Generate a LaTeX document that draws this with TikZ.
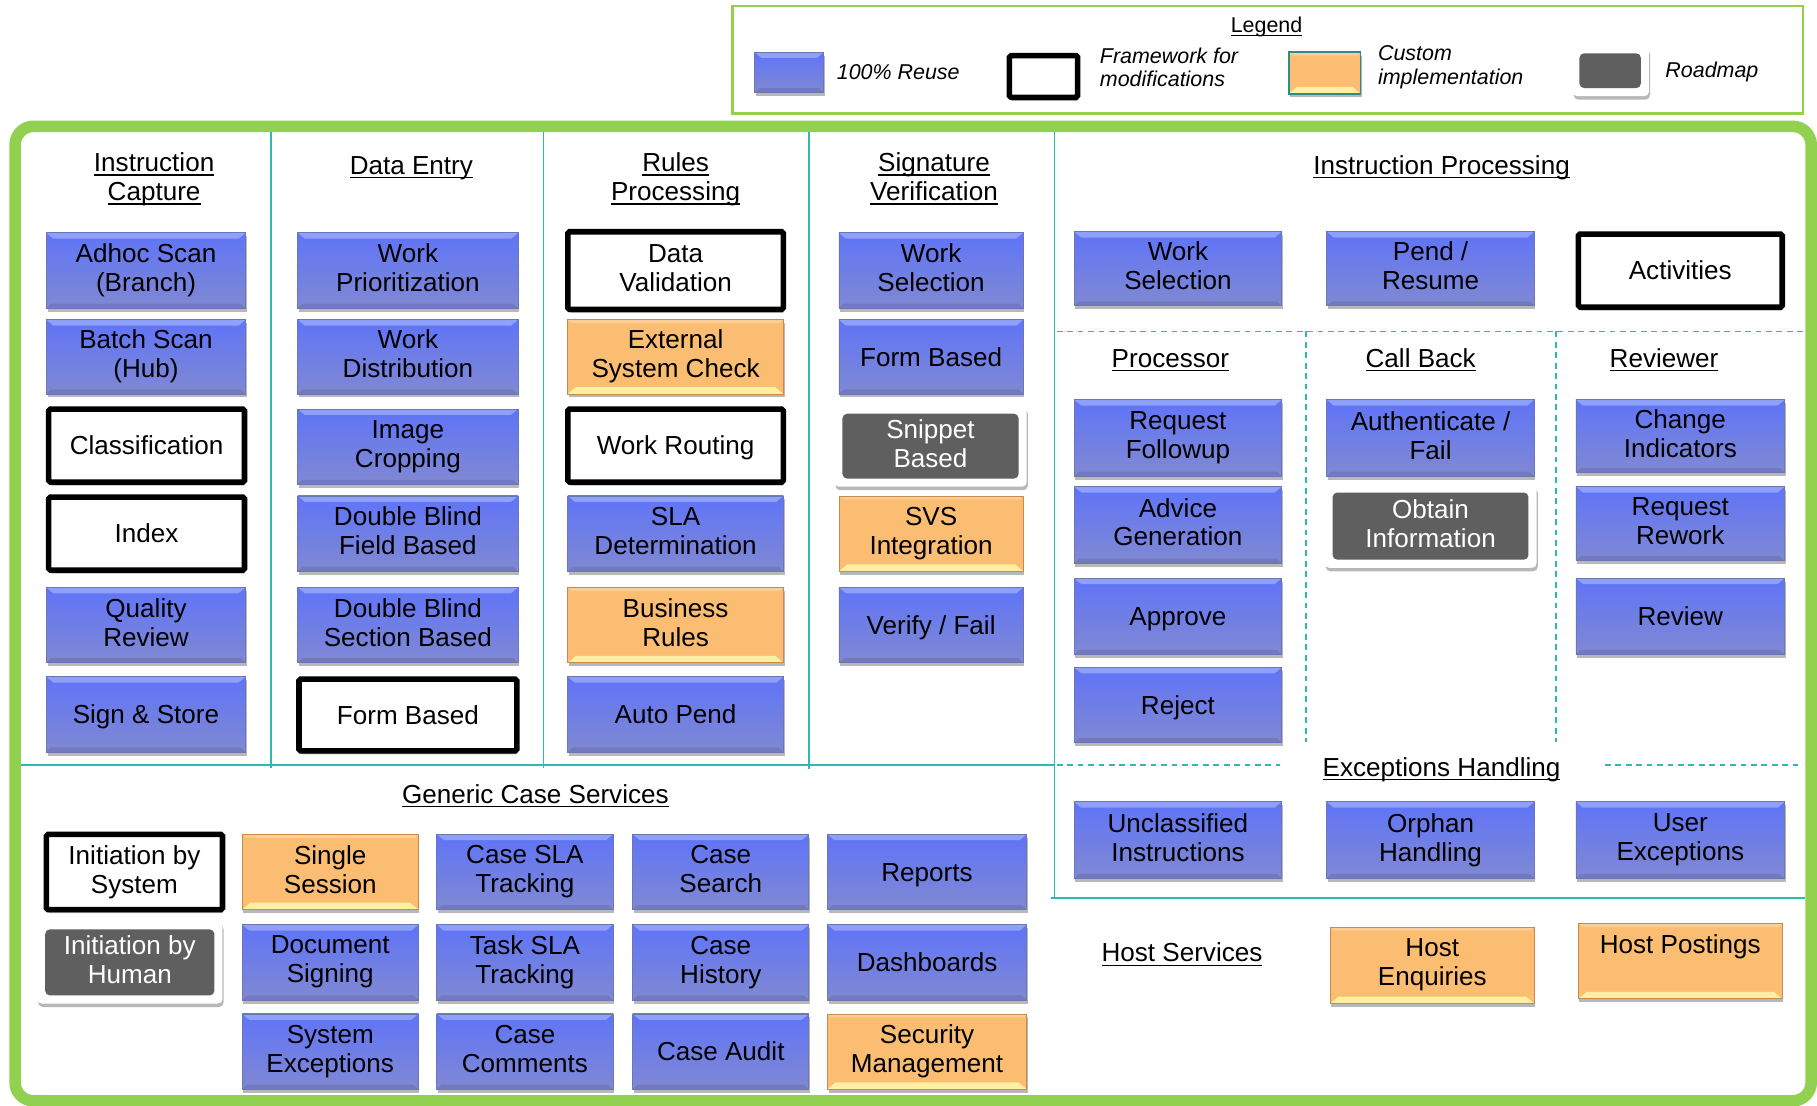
\documentclass[tikz,border=0pt]{standalone}
\usepackage{fontspec}
\setmainfont{Liberation Sans}
\usetikzlibrary{shadows}

\definecolor{framegreen}{HTML}{92D050}
\definecolor{divteal}{HTML}{2BBBB3}
\definecolor{reusetop}{HTML}{5F74F8}
\definecolor{reusebot}{HTML}{8089D2}
\definecolor{reuseedge}{HTML}{6C76B6}
\definecolor{reusebevel}{HTML}{8FA0FA}
\definecolor{customfill}{HTML}{FBBD72}
\definecolor{customedge}{HTML}{C98A4E}
\definecolor{custombevel}{HTML}{FFEFA2}
\definecolor{roadgray}{HTML}{5F5F5F}
\definecolor{legteal}{HTML}{2E8C88}

\newcommand\bxfont{\fontsize{22.5}{25}\selectfont}
\newcommand\legfont{\fontsize{18.5}{20}\selectfont\itshape}
% struts for the first and last line, so text sits centred on its capitals
\newcommand\topstrut{\rule{0pt}{21pt}}
\newcommand\botstrut{\rule[-5pt]{0pt}{5pt}}
% underline with a fixed offset below the baseline
\newcommand\ulx[1]{\leavevmode\setbox0=\hbox{#1}\rlap{\smash{\rule[-3.5pt]{\wd0}{1.1pt}}}\box0}
% box from its corners: style, name, x1, y1, x2, y2, text
\newcommand\mkbox[7]{\node[#1, minimum width={(#5)-(#3)}, minimum height={(#6)-(#4)}] (#2) at ({((#3)+(#5))/2},{((#4)+(#6))/2}) {#7};}

\tikzset{
  bx/.style={rectangle, align=center, inner sep=0pt, font=\bxfont,
    execute at begin node=\topstrut, execute at end node=\botstrut},
  softshadow/.style={drop shadow={shadow xshift=1pt, shadow yshift=-3pt, opacity=0.28, fill=black}},
  reusebox/.style={bx, softshadow, draw=reuseedge, line width=0.8pt,
    top color=reusetop, bottom color=reusebot,
    path picture={
      \fill[reusebevel] (path picture bounding box.north west) -- (path picture bounding box.north east)
        -- ([xshift=-6pt,yshift=-5pt]path picture bounding box.north east)
        -- ([xshift=6pt,yshift=-5pt]path picture bounding box.north west) -- cycle;
      \fill[black, opacity=0.10] (path picture bounding box.south west) -- (path picture bounding box.south east)
        -- ([xshift=-4pt,yshift=4pt]path picture bounding box.south east)
        -- ([xshift=4pt,yshift=4pt]path picture bounding box.south west) -- cycle;
    }},
  custombox/.style={bx, softshadow, draw=customedge, line width=0.8pt, fill=customfill,
    path picture={
      \fill[custombevel] (path picture bounding box.south west) -- (path picture bounding box.south east)
        -- ([xshift=-7pt,yshift=6pt]path picture bounding box.south east)
        -- ([xshift=7pt,yshift=6pt]path picture bounding box.south west) -- cycle;
      \fill[white, opacity=0.25] (path picture bounding box.north west) -- (path picture bounding box.north east)
        -- ([xshift=-3pt,yshift=-3pt]path picture bounding box.north east)
        -- ([xshift=3pt,yshift=-3pt]path picture bounding box.north west) -- cycle;
    }},
  modframe/.style={bx, softshadow, draw=black, fill=white, line width=4.8pt, rounded corners=1.5pt},
  roadbox/.style={bx, softshadow, fill=white, rounded corners=4pt, text=white,
    path picture={
      \fill[roadgray] ([xshift=7pt,yshift=-7pt]path picture bounding box.north west)
        rectangle ([xshift=-7pt,yshift=7pt]path picture bounding box.south east);
    }},
  secthead/.style={align=center, font=\bxfont, inner sep=0pt,
    execute at begin node=\topstrut, execute at end node=\botstrut},
  legtext/.style={align=left, font=\legfont, inner sep=0pt, anchor=west},
  divider/.style={divteal, line width=1.5pt},
  subdivider/.style={divteal, line width=1.5pt, dash pattern=on 5pt off 4pt},
}

\begin{document}
\begin{tikzpicture}[x=1pt,y=-1pt]
\useasboundingbox (0,0) rectangle (1568,954);
\fill[white] (0,0) rectangle (1568,954);

% ---------- legend ----------
\draw[framegreen, line width=2pt] (632,5) rectangle (1556,98);
\node[inner sep=0pt, font=\fontsize{18.5}{20}\selectfont] (lgh) at (1093,23) {\ulx{Legend}};
\mkbox{reusebox, line width=1pt}{lg1}{651}{45}{711}{80}{}
\node[legtext] (lg1t) at (722,62) {100\% Reuse};
\mkbox{modframe}{lg2}{871}{48}{930}{84}{}
\node[legtext] (lg2t) at (949,58) {Framework for\\modifications};
\mkbox{custombox, draw=legteal, line width=1.6pt}{lg3}{1112}{45}{1174}{81}{}
\node[legtext] (lg3t) at (1189,58) {Custom\\implementation};
\mkbox{roadbox, path picture={\fill[roadgray] ([xshift=6pt,yshift=-6pt]path picture bounding box.north west) rectangle ([xshift=-7pt,yshift=7pt]path picture bounding box.south east);}}{lg4}{1357}{40}{1423}{83}{}
\node[legtext] (lg4t) at (1437,62) {Roadmap};

% ---------- outer frame ----------
\draw[framegreen, line width=10pt, rounded corners=16pt] (13,109) rectangle (1563,950);

% ---------- section dividers ----------
\draw[divider] (234,114) -- (234,663);
\draw[divider] (469,114) -- (469,663);
\draw[divider] (698,114) -- (698,664);
\draw[divider] (910,114) -- (910,776);
\draw[divider] (18,660) -- (910,660);
\draw[divider] (907,775) -- (1558,775);
\draw[subdivider] (912,286) -- (1556,286);
\draw[subdivider] (1127,286) -- (1127,640);
\draw[subdivider] (1343,286) -- (1343,640);
\draw[subdivider] (912,660) -- (1105,660);
\draw[subdivider] (1385,660) -- (1556,660);

% ---------- section headings ----------
\node[secthead] (hIC) at (133,155) {\ulx{Instruction}\\\ulx{Capture}};
\node[secthead] (hDE) at (355,142.5) {\ulx{Data Entry}};
\node[secthead] (hRP) at (583,155) {\ulx{Rules}\\\ulx{Processing}};
\node[secthead] (hSV) at (806,155) {\ulx{Signature}\\\ulx{Verification}};
\node[secthead] (hIP) at (1244,142.5) {\ulx{Instruction Processing}};
\node[secthead] (hPR) at (1010,309) {\ulx{Processor}};
\node[secthead] (hCB) at (1226,309) {\ulx{Call Back}};
\node[secthead] (hRV) at (1436,309) {\ulx{Reviewer}};
\node[secthead] (hEH) at (1244,662) {\ulx{Exceptions Handling}};
\node[secthead] (hGC) at (462,685) {\ulx{Generic Case Services}};
\node[secthead] (hHS) at (1020,822) {\ulx{Host Services}};

% ---------- Instruction Capture ----------
\mkbox{reusebox}{ic1}{40}{201}{212}{266}{Adhoc Scan\\(Branch)}
\mkbox{reusebox}{ic2}{40}{276}{212}{340}{Batch Scan\\(Hub)}
\mkbox{modframe}{ic3}{42}{353}{211}{416}{Classification}
\mkbox{modframe}{ic4}{42}{429}{211}{492}{Index}
\mkbox{reusebox}{ic5}{40}{507}{212}{572}{Quality\\Review}
\mkbox{reusebox}{ic6}{40}{584}{212}{649}{Sign \& Store}

% ---------- Data Entry ----------
\mkbox{reusebox}{de1}{257}{201}{447}{266}{Work\\Prioritization}
\mkbox{reusebox}{de2}{257}{276}{447}{340}{Work\\Distribution}
\mkbox{reusebox}{de3}{257}{353}{447}{418}{Image\\Cropping}
\mkbox{reusebox}{de4}{257}{428}{447}{493}{Double Blind\\Field Based}
\mkbox{reusebox}{de5}{257}{507}{447}{572}{Double Blind\\Section Based}
\mkbox{modframe}{de6}{258}{586}{446}{648}{Form Based}

% ---------- Rules Processing ----------
\mkbox{modframe}{rp1}{490}{200}{676}{267}{Data\\Validation}
\mkbox{custombox}{rp2}{490}{276}{676}{340}{External\\System Check}
\mkbox{modframe}{rp3}{490}{353}{676}{416}{Work Routing}
\mkbox{reusebox}{rp4}{490}{428}{676}{493}{SLA\\Determination}
\mkbox{custombox}{rp5}{490}{507}{676}{572}{Business\\Rules}
\mkbox{reusebox}{rp6}{490}{584}{676}{649}{Auto Pend}

% ---------- Signature Verification ----------
\mkbox{reusebox}{sv1}{724}{201}{883}{266}{Work\\Selection}
\mkbox{reusebox}{sv2}{724}{276}{883}{340}{Form Based}
\mkbox{roadbox}{sv3}{720}{350}{886}{420}{Snippet\\Based}
\mkbox{custombox}{sv4}{724}{428}{883}{493}{SVS\\Integration}
\mkbox{reusebox}{sv5}{724}{507}{883}{572}{Verify / Fail}

% ---------- Instruction Processing ----------
\mkbox{reusebox}{ip1}{927}{200}{1106}{264}{Work\\Selection}
\mkbox{reusebox}{ip2}{1145}{200}{1324}{264}{Pend /\\Resume}
\mkbox{modframe}{ip3}{1362}{202}{1538}{265}{Activities}

\mkbox{reusebox}{pr1}{927}{345}{1106}{411}{Request\\Followup}
\mkbox{reusebox}{pr2}{927}{420}{1106}{486}{Advice\\Generation}
\mkbox{reusebox}{pr3}{927}{499}{1106}{565}{Approve}
\mkbox{reusebox}{pr4}{927}{576}{1106}{641}{Reject}

\mkbox{reusebox}{cb1}{1145}{345}{1324}{411}{Authenticate /\\Fail}
\mkbox{roadbox}{cb2}{1143}{418}{1326}{490}{Obtain\\Information}

\mkbox{reusebox}{rv1}{1360}{345}{1540}{408}{Change\\Indicators}
\mkbox{reusebox}{rv2}{1360}{420}{1540}{484}{Request\\Rework}
\mkbox{reusebox}{rv3}{1360}{499}{1540}{565}{Review}

\mkbox{reusebox}{ex1}{927}{692}{1106}{758}{Unclassified\\Instructions}
\mkbox{reusebox}{ex2}{1145}{692}{1324}{758}{Orphan\\Handling}
\mkbox{reusebox}{ex3}{1360}{692}{1540}{758}{User\\Exceptions}

% ---------- Host Services ----------
\mkbox{custombox}{hs1}{1148}{800}{1324}{866}{Host\\Enquiries}
\mkbox{custombox}{hs2}{1362}{797}{1538}{862}{Host Postings\\\mbox{}}

% ---------- Generic Case Services ----------
\mkbox{modframe}{gA1}{40}{720}{192}{785}{Initiation by\\System}
\mkbox{roadbox}{gA2}{32}{795}{192}{866}{Initiation by\\Human}

\mkbox{custombox}{gB1}{209}{720}{361}{785}{Single\\Session}
\mkbox{reusebox}{gB2}{209}{798}{361}{863}{Document\\Signing}
\mkbox{reusebox}{gB3}{209}{875}{361}{940}{System\\Exceptions}

\mkbox{reusebox}{gC1}{377}{720}{529}{785}{Case SLA\\Tracking}
\mkbox{reusebox}{gC2}{377}{798}{529}{863}{Task SLA\\Tracking}
\mkbox{reusebox}{gC3}{377}{875}{529}{940}{Case\\Comments}

\mkbox{reusebox}{gD1}{546}{720}{698}{785}{Case\\Search}
\mkbox{reusebox}{gD2}{546}{798}{698}{863}{Case\\History}
\mkbox{reusebox}{gD3}{546}{875}{698}{940}{Case Audit}

\mkbox{reusebox}{gE1}{714}{720}{886}{785}{Reports}
\mkbox{reusebox}{gE2}{714}{798}{886}{863}{Dashboards}
\mkbox{custombox}{gE3}{714}{875}{886}{940}{Security\\Management}

\end{tikzpicture}
\end{document}
